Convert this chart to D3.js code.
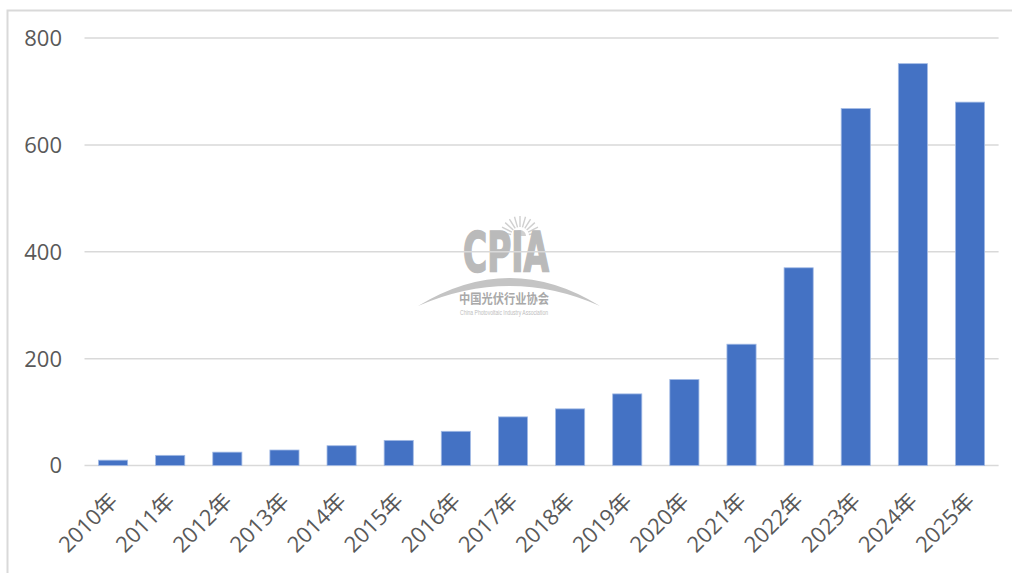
<!DOCTYPE html>
<html>
<head>
<meta charset="utf-8">
<script src="https://cdn.jsdelivr.net/npm/d3@7"></script>
<style>
  html, body { margin: 0; padding: 0; background: #ffffff; }
  svg { display: block; }
</style>
</head>
<body>
<svg id="chart" width="1012" height="573"></svg>
<script>
const categories = ["2010年","2011年","2012年","2013年","2014年","2015年","2016年","2017年","2018年","2019年","2020年","2021年","2022年","2023年","2024年","2025年"];
const values = [10, 19, 25, 29, 37, 47, 64, 91, 106, 134, 161, 227, 370, 668, 752, 680];
const yTicks = [0, 200, 400, 600, 800];

(function () {
const svg = d3.select("#chart");
const W = 1012, H = 573;
const plotLeft = 84.5, plotRight = 998.6, plotTop = 38, plotBottom = 465.5;
const fontFam = "'Open Sans', 'Noto Sans CJK SC', sans-serif";

// outer border
svg.append("rect")
  .attr("x", 7.5).attr("y", 10.5)
  .attr("width", W + 20).attr("height", H + 20)
  .attr("fill", "none").attr("stroke", "#d9d9d9").attr("stroke-width", 2);

const x = d3.scaleBand().domain(categories).range([plotLeft, plotRight]).paddingInner(0.49).paddingOuter(0.245);
const y = d3.scaleLinear().domain([0, 800]).range([plotBottom, plotTop]);

// watermark
const wm = svg.append("g");
const sunC = [520, 236];
wm.append("path")
  .attr("d", d3.arc()({innerRadius: 0, outerRadius: 6, startAngle: -Math.PI/2, endAngle: Math.PI/2}))
  .attr("transform", `translate(${sunC[0]},${sunC[1]})`)
  .attr("fill", "#d0d0d0");
const rayG = wm.append("g").attr("stroke", "#d0d0d0").attr("stroke-width", 1.4);
for (let a = -80; a <= 80; a += 16) {
  const r = a * Math.PI / 180;
  rayG.append("line")
    .attr("x1", sunC[0] + 9 * Math.sin(r)).attr("y1", sunC[1] - 9 * Math.cos(r))
    .attr("x2", sunC[0] + 20 * Math.sin(r)).attr("y2", sunC[1] - 20 * Math.cos(r));
}
wm.append("text")
  .attr("x", 463).attr("y", 271)
  .attr("textLength", 86).attr("lengthAdjust", "spacingAndGlyphs")
  .attr("font-family", "'DejaVu Sans Condensed', 'DejaVu Sans', sans-serif")
  .attr("font-weight", "bold").attr("font-size", 56)
  .attr("fill", "#bababa").attr("stroke", "#bababa").attr("stroke-width", 1.6)
  .text("CPIA");
wm.append("path")
  .attr("d", "M418,306 Q510,250 600,306 Q510,266 418,306 Z")
  .attr("fill", "#c4c4c4");
wm.append("text")
  .attr("x", 459).attr("y", 303)
  .attr("textLength", 90).attr("lengthAdjust", "spacingAndGlyphs")
  .attr("font-family", "'Noto Sans CJK SC', sans-serif")
  .attr("font-weight", "bold").attr("font-size", 13)
  .attr("fill", "#a9a9a9")
  .text("中国光伏行业协会");
wm.append("text")
  .attr("x", 460).attr("y", 315)
  .attr("textLength", 88).attr("lengthAdjust", "spacingAndGlyphs")
  .attr("font-family", "'Liberation Sans', sans-serif")
  .attr("font-size", 7)
  .attr("fill", "#bdbdbd")
  .text("China Photovoltaic Industry Association");

// gridlines
svg.append("g").selectAll("line").data(yTicks).join("line")
  .attr("x1", plotLeft).attr("x2", plotRight)
  .attr("y1", d => y(d)).attr("y2", d => y(d))
  .attr("stroke", "#d9d9d9").attr("stroke-width", 1.5);

// y labels
svg.append("g").selectAll("text").data(yTicks).join("text")
  .attr("x", 62).attr("y", d => y(d))
  .attr("dy", "0.36em")
  .attr("text-anchor", "end")
  .attr("font-family", fontFam).attr("font-size", 22)
  .attr("fill", "#595959")
  .text(d => d);

// bars
svg.append("g").selectAll("rect").data(values).join("rect")
  .attr("x", (d, i) => x(categories[i]))
  .attr("y", d => y(d))
  .attr("width", x.bandwidth())
  .attr("height", d => y(0) - y(d))
  .attr("fill", "#4472c4")
  .attr("stroke", "#a3bbe5").attr("stroke-width", 0.8);

// x labels
svg.append("g").selectAll("text").data(categories).join("text")
  .attr("transform", d => `translate(${x(d) + x.bandwidth() / 2 + 6},${plotBottom + 37}) rotate(-45)`)
  .attr("text-anchor", "end")
  .attr("font-family", fontFam).attr("font-size", 22)
  .attr("fill", "#595959")
  .text(d => d);
})();
</script>
</body>
</html>
